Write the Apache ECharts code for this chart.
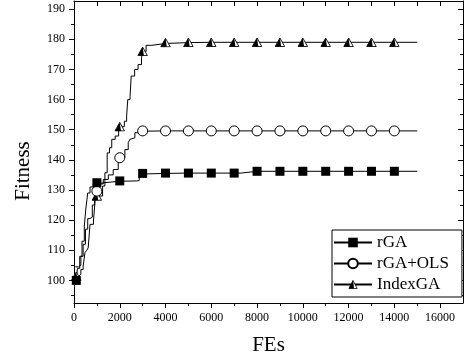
<!DOCTYPE html>
<html>
<head>
<meta charset="utf-8">
<script src="https://cdn.jsdelivr.net/npm/echarts@6/dist/echarts.min.js"></script>
<style>
  html, body { margin: 0; padding: 0; background: #fff; }
  #chart { width: 466px; height: 362px; }
</style>
</head>
<body>
<div id="chart"></div>
<script>
// FEs where the symbols sit
const markerFEs = [100, 1000, 2000, 3000, 4000, 5000, 6000, 7000, 8000, 9000, 10000, 11000, 12000, 13000, 14000];

// rGA
const rgaFEs = [100, 150, 250, 350, 450, 520, 600, 700, 850, 1000, 1300, 2000, 2750, 2850, 3000, 4000, 5000, 6000, 7000, 7300, 8000, 9000, 10000, 11000, 12000, 13000, 14000, 15000];
const rgaFit = [100, 104, 108, 113, 118, 124, 129, 131, 132, 132.4, 132.9, 133, 133.1, 135.3, 135.5, 135.6, 135.6, 135.6, 135.6, 136.2, 136.2, 136.2, 136.2, 136.2, 136.2, 136.2, 136.2, 136.2];

// rGA+OLS
const olsFEs = [50, 200, 300, 400, 500, 600, 700, 800, 900, 1000, 1100, 1280, 1500, 1714, 1933, 2000, 2224, 2370, 2442, 2515, 2660, 2805, 3000, 4000, 5000, 6000, 7000, 8000, 9000, 10000, 11000, 12000, 13000, 14000, 15000];
const olsFit = [104.5, 105, 108, 112, 117, 120.5, 121, 125, 128, 129.6, 132, 133.5, 135, 136.8, 139, 140.7, 143.4, 145.7, 146.8, 147.3, 149, 149.5, 149.6, 149.6, 149.6, 149.6, 149.6, 149.6, 149.6, 149.6, 149.6, 149.6, 149.6, 149.6, 149.6];

// IndexGA
const idxFEs = [100, 200, 300, 400, 480, 560, 620, 700, 850, 920, 1000, 1250, 1350, 1450, 1550, 1650, 1800, 1950, 2000, 2200, 2300, 2350, 2450, 2500, 2650, 2800, 2950, 3000, 3150, 3400, 4000, 5000, 6000, 7000, 8000, 9000, 10000, 11000, 12000, 13000, 14000, 15000];
const idxFit = [101.4, 102, 103.6, 104.7, 109.2, 110, 110.8, 118.6, 119.7, 126.3, 128, 131.3, 135.7, 142.3, 144, 146.8, 147.9, 150, 151, 152.8, 154.5, 160, 161, 167.8, 170, 171.6, 174, 176, 178, 178.6, 178.9, 179, 179, 179, 179, 179, 179, 179, 179, 179, 179, 179];

// tick values
const xMajor = [0, 2000, 4000, 6000, 8000, 10000, 12000, 14000, 16000];
const xMinor = [1000, 3000, 5000, 7000, 9000, 11000, 13000, 15000];
const xTop = [0, 1000, 2000, 3000, 4000, 5000, 6000, 7000, 8000, 9000, 10000, 11000, 12000, 13000, 14000, 15000, 16000];
const yMajor = [100, 110, 120, 130, 140, 150, 160, 170, 180, 190];
const yMinor = [95, 105, 115, 125, 135, 145, 155, 165, 175, 185];

const FONT = 'Liberation Serif';

const triSvg = "<svg xmlns='http://www.w3.org/2000/svg' width='22' height='20' viewBox='0 0 22 20'>" +
  "<polygon points='11,1.5 20.5,18.5 1.5,18.5' fill='#fff' stroke='#000' stroke-width='1.8'/>" +
  "<polygon points='11,1.5 13.5,18.5 1.5,18.5' fill='#000'/></svg>";
const triSymbol = 'image://data:image/svg+xml;charset=utf-8,' + encodeURIComponent(triSvg);

function build(fes, fit) {
  return fes.map((x, i) => {
    const item = { value: [x, fit[i]] };
    if (markerFEs.indexOf(x) < 0) item.symbol = 'none';
    return item;
  });
}

function xAx(extra) {
  return Object.assign({
    type: 'value', min: 0, max: 17000,
    splitLine: { show: false },
    axisLine: { show: false, onZero: false, lineStyle: { color: '#000', width: 1 } },
    axisLabel: { show: false },
    axisTick: { show: false }
  }, extra);
}
function yAx(extra) {
  return Object.assign({
    type: 'value', min: 92.5, max: 192.7,
    splitLine: { show: false },
    axisLine: { show: false, onZero: false, lineStyle: { color: '#000', width: 1 } },
    axisLabel: { show: false },
    axisTick: { show: false }
  }, extra);
}

const chart = echarts.init(document.getElementById('chart'));

chart.setOption({
  animation: false,
  backgroundColor: '#fff',
  grid: { left: 74, right: 3, top: 1, bottom: 59 },
  xAxis: [
    xAx({
      position: 'bottom',
      axisLine: { show: true, onZero: false, lineStyle: { color: '#000', width: 1 } },
      axisTick: { show: true, inside: false, length: 5, customValues: xMajor, lineStyle: { color: '#000' } },
      axisLabel: {
        show: true, customValues: xMajor, color: '#000', fontFamily: FONT, fontSize: 12, margin: 9,
        formatter: (v) => String(v)
      },
      name: 'FEs', nameLocation: 'middle', nameGap: 32,
      nameTextStyle: { fontFamily: FONT, fontSize: 21, color: '#000' }
    }),
    xAx({
      position: 'bottom',
      axisTick: { show: true, inside: false, length: 3, customValues: xMinor, lineStyle: { color: '#000' } }
    }),
    xAx({
      position: 'top',
      axisLine: { show: true, onZero: false, lineStyle: { color: '#000', width: 1 } },
      axisTick: { show: true, inside: true, length: 5, customValues: xTop, lineStyle: { color: '#000' } }
    })
  ],
  yAxis: [
    yAx({
      position: 'left',
      axisLine: { show: true, onZero: false, lineStyle: { color: '#000', width: 1 } },
      axisTick: { show: true, inside: false, length: 5, customValues: yMajor, lineStyle: { color: '#000' } },
      axisLabel: { show: true, customValues: yMajor, color: '#000', fontFamily: FONT, fontSize: 12, margin: 9 }
    }),
    yAx({
      position: 'left',
      axisTick: { show: true, inside: false, length: 3, customValues: yMinor, lineStyle: { color: '#000' } }
    }),
    yAx({
      position: 'right',
      axisLine: { show: true, onZero: false, lineStyle: { color: '#000', width: 1 } },
      axisTick: { show: true, inside: true, length: 5, customValues: yMajor, lineStyle: { color: '#000' } }
    }),
    yAx({
      position: 'right',
      axisTick: { show: true, inside: true, length: 3, customValues: yMinor, lineStyle: { color: '#000' } }
    })
  ],
  graphic: [{
    type: 'text', x: 23, y: 171, rotation: Math.PI / 2,
    style: { text: 'Fitness', fontFamily: FONT, fontSize: 21, fill: '#000', align: 'center', verticalAlign: 'middle' }
  }],
  legend: {
    orient: 'vertical', left: 332, top: 230,
    data: ['rGA', 'rGA+OLS', 'IndexGA'],
    itemWidth: 38, itemHeight: 12, itemGap: 4,
    textStyle: { fontFamily: FONT, fontSize: 17, color: '#000' },
    borderColor: '#000', borderWidth: 1, borderRadius: 0,
    padding: [4, 13, 4, 1], backgroundColor: '#fff'
  },
  series: [
    {
      name: 'IndexGA', type: 'line', step: 'end',
      data: build(idxFEs, idxFit),
      symbol: triSymbol, symbolSize: [11, 10],
      lineStyle: { color: '#000', width: 1 },
      itemStyle: { color: '#000' }
    },
    {
      name: 'rGA+OLS', type: 'line', step: 'end',
      data: build(olsFEs, olsFit),
      symbol: 'circle', symbolSize: 10,
      lineStyle: { color: '#000', width: 1 },
      itemStyle: { color: '#fff', borderColor: '#000', borderWidth: 1 }
    },
    {
      name: 'rGA', type: 'line', step: 'end',
      data: build(rgaFEs, rgaFit),
      symbol: 'rect', symbolSize: 9,
      lineStyle: { color: '#000', width: 1 },
      itemStyle: { color: '#000' }
    }
  ]
});
</script>
</body>
</html>
